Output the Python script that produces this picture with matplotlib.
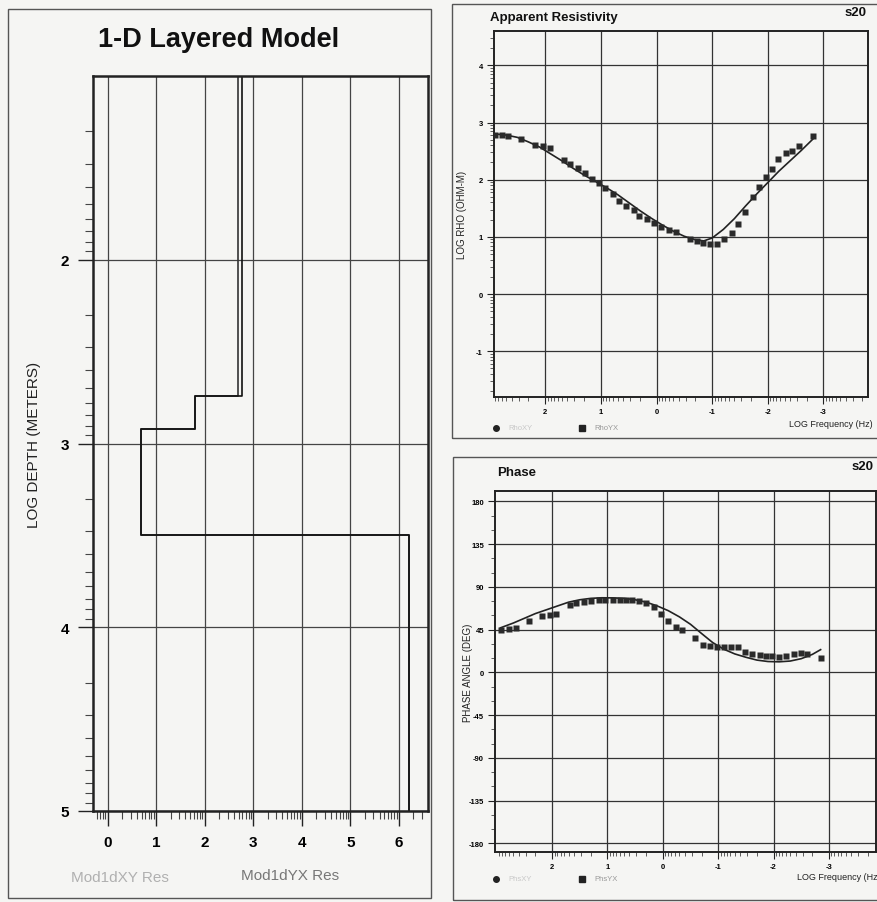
import numpy as np
import matplotlib
matplotlib.use("Agg")
import matplotlib.pyplot as plt
from matplotlib.patches import Rectangle
from matplotlib.ticker import FixedLocator, MultipleLocator

plt.rcParams['font.family'] = ['Liberation Sans', 'DejaVu Sans']
plt.rcParams['axes.unicode_minus'] = False

W, H = 878, 903
BG = '#f5f5f3'
INK = '#222222'

# ---- 1-D layered model (log depth vs log resistivity) ----
layer_top = [1.0, 2.74, 2.92, 3.50]
layer_bot = [2.74, 2.92, 3.50, 5.0]
res_xy = [2.69, 1.80, 0.69, 6.20]
res_yx = [2.76, 1.80, 0.69, 6.20]

# ---- apparent resistivity (log freq, log rho) ----
freq_rho = [2.91, 2.78, 2.66, 2.43, 2.18, 2.04, 1.92, 1.67, 1.55, 1.41, 1.28,
            1.16, 1.04, 0.92, 0.79, 0.67, 0.55, 0.41, 0.31, 0.17, 0.04, -0.08,
            -0.22, -0.35, -0.61, -0.73, -0.84, -0.97, -1.09, -1.22, -1.35,
            -1.47, -1.59, -1.73, -1.85, -1.97, -2.08, -2.19, -2.32, -2.44,
            -2.56, -2.82]
rho_yx = [2.78, 2.78, 2.77, 2.71, 2.61, 2.59, 2.56, 2.34, 2.27, 2.21, 2.11,
          2.02, 1.95, 1.85, 1.75, 1.63, 1.54, 1.47, 1.37, 1.31, 1.24, 1.17,
          1.12, 1.08, 0.96, 0.92, 0.90, 0.88, 0.88, 0.97, 1.06, 1.22, 1.43,
          1.69, 1.87, 2.04, 2.18, 2.36, 2.47, 2.50, 2.59, 2.77]
freq_rho_fit = [2.91, 2.7, 2.5, 2.3, 2.1, 1.9, 1.7, 1.5, 1.3, 1.1, 0.9, 0.7,
                0.5, 0.3, 0.1, -0.1, -0.3, -0.5, -0.7, -0.85, -1.0, -1.2, -1.4,
                -1.6, -1.8, -2.0, -2.2, -2.4, -2.6, -2.82]
rho_fit = [2.80, 2.78, 2.74, 2.66, 2.57, 2.45, 2.33, 2.20, 2.08, 1.97, 1.86,
           1.74, 1.60, 1.46, 1.33, 1.21, 1.10, 1.01, 0.95, 0.93, 0.98, 1.13,
           1.32, 1.54, 1.75, 1.95, 2.15, 2.33, 2.51, 2.72]

# ---- phase (log freq, degrees) ----
freq_phs = [2.93, 2.78, 2.65, 2.42, 2.18, 2.04, 1.92, 1.68, 1.56, 1.43, 1.30,
            1.16, 1.04, 0.90, 0.78, 0.66, 0.55, 0.43, 0.30, 0.16, 0.04, -0.09,
            -0.23, -0.35, -0.59, -0.73, -0.85, -0.98, -1.10, -1.23, -1.36,
            -1.49, -1.61, -1.75, -1.87, -1.98, -2.10, -2.23, -2.37, -2.49,
            -2.61, -2.85]
phs_yx = [44.4, 45.4, 46.5, 54.2, 59.4, 60.1, 61.9, 70.9, 73.4, 74.4, 75.1,
          75.8, 76.2, 76.2, 76.2, 75.8, 75.8, 75.1, 73.4, 68.9, 61.9, 54.2,
          47.9, 44.4, 36.0, 29.0, 28.0, 27.3, 27.3, 27.3, 27.3, 22.0, 19.2,
          18.2, 17.5, 16.8, 16.4, 17.5, 19.2, 20.3, 19.9, 15.0]
freq_phs_fit = [2.93, 2.7, 2.5, 2.3, 2.1, 1.9, 1.7, 1.5, 1.3, 1.1, 0.9, 0.7,
                0.5, 0.3, 0.1, -0.1, -0.3, -0.5, -0.7, -0.9, -1.1, -1.3, -1.5,
                -1.7, -1.9, -2.1, -2.3, -2.5, -2.7, -2.85]
phs_fit = [47, 52, 57, 62, 66, 70, 74, 76.5, 78, 78.6, 78.5, 78, 76.5, 74, 70,
           65, 58.5, 50.7, 41, 31.5, 24.5, 19.5, 16, 13, 11.5, 11.2, 12, 14.5,
           19, 24]

depth_ticks = [2, 3, 4, 5]
res_ticks = [0, 1, 2, 3, 4, 5, 6]
rho_ticks = [-1, 0, 1, 2, 3, 4]
phs_ticks = [-180, -135, -90, -45, 0, 45, 90, 135, 180]
freq_ticks = [-3, -2, -1, 0, 1, 2]


def px_axes(fig, l, t, r, b):
    return fig.add_axes([l / W, 1 - b / H, (r - l) / W, (b - t) / H])


def ftext(fig, x, y, s, **kw):
    fig.text(x / W, 1 - y / H, s, **kw)


def log_minor(lo, hi):
    out = []
    for n in range(lo, hi):
        out += [n + np.log10(k) for k in range(2, 10)]
    return out


fig = plt.figure(figsize=(W / 100, H / 100), dpi=100, facecolor=BG)

# panel frames
for (l, t, r, b) in [(8, 10, 431, 899), (452, 5, 890, 439), (453, 458, 890, 901)]:
    fig.patches.append(Rectangle((l / W, 1 - b / H), (r - l) / W, (b - t) / H,
                                 transform=fig.transFigure, fill=False,
                                 edgecolor='#555555', lw=1.0))

# ================= left: 1-D layered model =================
ax = px_axes(fig, 93, 77, 428, 812)
ax.set_facecolor('none')
ax.set_xlim(-0.3, 6.6)
ax.set_ylim(5.0, 1.0)
ax.xaxis.set_major_locator(FixedLocator(res_ticks))
ax.yaxis.set_major_locator(FixedLocator(depth_ticks))
ax.xaxis.set_minor_locator(FixedLocator(log_minor(-1, 7)))
ax.yaxis.set_minor_locator(FixedLocator(log_minor(1, 5)))
ax.grid(True, which='major', color='#444444', lw=0.9)
ax.tick_params(which='major', length=11, width=1.0, color=INK,
               labelsize=11, pad=6)
ax.tick_params(which='minor', length=6, width=0.8, color='#444444')
for lab in ax.get_xticklabels() + ax.get_yticklabels():
    lab.set_fontweight('bold')
for s in ax.spines.values():
    s.set_linewidth(1.8)
    s.set_color(INK)

for res, col in [(res_xy, '#333333'), (res_yx, '#111111')]:
    xs, ys = [], []
    for r, d0, d1 in zip(res, layer_top, layer_bot):
        xs += [r, r]
        ys += [d0, d1]
    ax.plot(xs, ys, color=col, lw=1.2)

ax.set_ylabel('LOG DEPTH (METERS)', fontsize=11, color=INK, labelpad=14)
ftext(fig, 219, 40, '1-D Layered Model', fontsize=19.5, fontweight='bold',
      ha='center', va='center', color='#111111')
ftext(fig, 120, 878, 'Mod1dXY Res', fontsize=11, ha='center', va='center',
      color='#b0b0b0')
ftext(fig, 290, 876, 'Mod1dYX Res', fontsize=11, ha='center', va='center',
      color='#777777')


def style_small(ax):
    ax.set_facecolor('none')
    ax.grid(True, which='major', color='#333333', lw=0.9)
    ax.tick_params(which='major', length=5, width=0.8, labelsize=5.5,
                   color=INK, pad=3)
    ax.tick_params(which='minor', length=3, width=0.6, color='#444444')
    for lab in ax.get_xticklabels() + ax.get_yticklabels():
        lab.set_fontweight('bold')
    for s in ax.spines.values():
        s.set_linewidth(1.4)
        s.set_color(INK)


def small_legend(fig, y, lab_xy, lab_yx):
    ax_l = fig.add_axes([0, 0, 1, 1], facecolor='none')
    ax_l.set_xlim(0, W)
    ax_l.set_ylim(H, 0)
    ax_l.axis('off')
    ax_l.plot([496], [y], 'o', color=INK, ms=4)
    ax_l.text(508, y, lab_xy, fontsize=5.5, color='#c8c8c8', va='center')
    ax_l.plot([582], [y], 's', color=INK, ms=4)
    ax_l.text(594, y, lab_yx, fontsize=5.5, color='#999999', va='center')


# ================= right top: apparent resistivity =================
ax1 = px_axes(fig, 494, 32, 868, 398)
ax1.set_xlim(2.92, -3.8)
ax1.set_ylim(-1.8, 4.6)
ax1.xaxis.set_major_locator(FixedLocator(freq_ticks))
ax1.yaxis.set_major_locator(FixedLocator(rho_ticks))
ax1.xaxis.set_minor_locator(FixedLocator(log_minor(-4, 3)))
ax1.yaxis.set_minor_locator(FixedLocator(log_minor(-2, 5)))
style_small(ax1)
ax1.plot(freq_rho_fit, rho_fit, color=INK, lw=1.2, zorder=3)
ax1.plot(freq_rho, rho_yx, 's', color='#2a2a2a', ms=4.2, mec='none', zorder=4)
ax1.set_ylabel('LOG RHO (OHM-M)', fontsize=7, color=INK)
ax1.yaxis.set_label_coords(-0.072, 0.5)
ftext(fig, 490, 18, 'Apparent Resistivity', fontsize=9.5, fontweight='bold',
      va='center', color='#111111')
ftext(fig, 867, 13, 's20', fontsize=9.5, fontweight='bold', va='center',
      ha='right', color='#111111')
ftext(fig, 873, 425, 'LOG Frequency (Hz)', fontsize=6.5, va='center',
      ha='right', color=INK)
small_legend(fig, 429, 'RhoXY', 'RhoYX')

# ================= right bottom: phase =================
ax2 = px_axes(fig, 495, 492, 876, 853)
ax2.set_xlim(3.03, -3.85)
ax2.set_ylim(-189, 191)
ax2.xaxis.set_major_locator(FixedLocator(freq_ticks))
ax2.yaxis.set_major_locator(FixedLocator(phs_ticks))
ax2.xaxis.set_minor_locator(FixedLocator(log_minor(-4, 4)))
ax2.yaxis.set_minor_locator(MultipleLocator(15))
style_small(ax2)
ax2.plot(freq_phs_fit, phs_fit, color=INK, lw=1.2, zorder=3)
ax2.plot(freq_phs, phs_yx, 's', color='#2a2a2a', ms=4.2, mec='none', zorder=4)
ax2.set_ylabel('PHASE ANGLE (DEG)', fontsize=7, color=INK)
ax2.yaxis.set_label_coords(-0.058, 0.5)
ftext(fig, 497, 473, 'Phase', fontsize=9.5, fontweight='bold', va='center',
      color='#111111')
ftext(fig, 874, 467, 's20', fontsize=9.5, fontweight='bold', va='center',
      ha='right', color='#111111')
ftext(fig, 878, 878, 'LOG Frequency (Hz', fontsize=6.5, va='center',
      ha='right', color=INK)
small_legend(fig, 880, 'PhsXY', 'PhsYX')

fig.savefig('out.png', dpi=100, facecolor=BG)
